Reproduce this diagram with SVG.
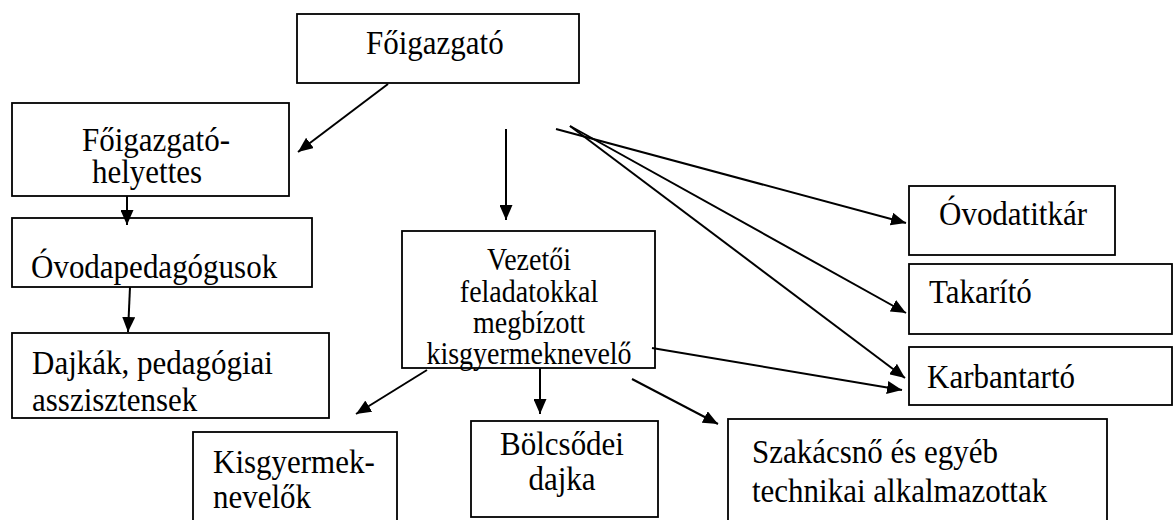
<svg xmlns="http://www.w3.org/2000/svg" width="1174" height="520" viewBox="0 0 1174 520">
<style>
.box{fill:#fff;stroke:#000;stroke-width:1.8}
.t{font-family:"Liberation Serif","Times New Roman",serif;font-size:31px;fill:#000}
.v{font-size:28px}
.m{text-anchor:middle}
.c{stroke:#000;stroke-width:2;fill:none;marker-end:url(#ah)}
</style>
<defs>
<marker id="ah" markerUnits="userSpaceOnUse" markerWidth="15" markerHeight="13" refX="15" refY="6.5" orient="auto">
<path d="M0,0 L15,6.5 L0,13 z" fill="#000"/>
</marker>
</defs>
<rect width="1174" height="520" fill="#fff"/>
<g id="foigazgato"><rect class="box" x="297" y="14" width="282" height="69"/><text class="t" transform="matrix(1,0,0,1.1,366,54)">Főigazgató</text></g>
<g id="helyettes"><rect class="box" x="12" y="103" width="277" height="93"/><text class="t" transform="matrix(1,0,0,1.1,82,151)">Főigazgató-</text><text class="t" transform="matrix(1,0,0,1.1,92,183)">helyettes</text></g>
<g id="ovodaped"><rect class="box" x="12" y="218" width="300" height="69"/><text class="t" transform="matrix(1,0,0,1.1,31,278)">Óvodapedagógusok</text></g>
<g id="dajkak"><rect class="box" x="12" y="333" width="317" height="85"/><text class="t" transform="matrix(1,0,0,1.1,32,374)">Dajkák, pedagógiai</text><text class="t" transform="matrix(1,0,0,1.1,32,411)">asszisztensek</text></g>
<g id="vezetoi"><rect class="box" x="402" y="231" width="253" height="137"/><text class="t v m" transform="matrix(1,0,0,1.1,529,270)">Vezetői</text><text class="t v m" transform="matrix(1,0,0,1.1,529,302)">feladatokkal</text><text class="t v m" transform="matrix(1,0,0,1.1,529,333)">megbízott</text><text class="t v m" transform="matrix(1,0,0,1.1,529,364)">kisgyermeknevelő</text></g>
<g id="titkar"><rect class="box" x="909" y="186" width="206" height="69"/><text class="t" transform="matrix(1,0,0,1.1,939,225)">Óvodatitkár</text></g>
<g id="takarito"><rect class="box" x="909" y="264" width="263" height="70"/><text class="t" transform="matrix(1,0,0,1.1,929,303)">Takarító</text></g>
<g id="karbantarto"><rect class="box" x="909" y="347" width="263" height="58"/><text class="t" transform="matrix(1,0,0,1.1,927,388)">Karbantartó</text></g>
<g id="kisgyermek"><rect class="box" x="193" y="432" width="204" height="100"/><text class="t" transform="matrix(1,0,0,1.1,213,473)">Kisgyermek-</text><text class="t" transform="matrix(1,0,0,1.1,213,508)">nevelők</text></g>
<g id="bolcsodei"><rect class="box" x="471" y="421" width="187" height="96"/><text class="t m" transform="matrix(1,0,0,1.1,562,455)">Bölcsődei</text><text class="t m" transform="matrix(1,0,0,1.1,562,490)">dajka</text></g>
<g id="szakacsno"><rect class="box" x="728" y="419" width="379" height="113"/><text class="t" transform="matrix(1,0,0,1.1,752,463)">Szakácsnő és egyéb</text><text class="t" transform="matrix(1,0,0,1.1,752,502)">technikai alkalmazottak</text></g>
<g id="connectors">
<line class="c" x1="388" y1="84" x2="298" y2="152"/>
<line class="c" x1="127" y1="196" x2="127" y2="225"/>
<line class="c" x1="130" y1="287" x2="128" y2="332"/>
<line class="c" x1="506" y1="129" x2="506" y2="220"/>
<line class="c" x1="556" y1="129" x2="906" y2="223"/>
<line class="c" x1="570" y1="126" x2="906" y2="313"/>
<line class="c" x1="570" y1="126" x2="905" y2="378"/>
<line class="c" x1="652" y1="348" x2="902" y2="390"/>
<line class="c" x1="427" y1="370" x2="356" y2="414"/>
<line class="c" x1="540" y1="368" x2="540" y2="414"/>
<line class="c" x1="632" y1="379" x2="718" y2="424"/>
</g>
</svg>
